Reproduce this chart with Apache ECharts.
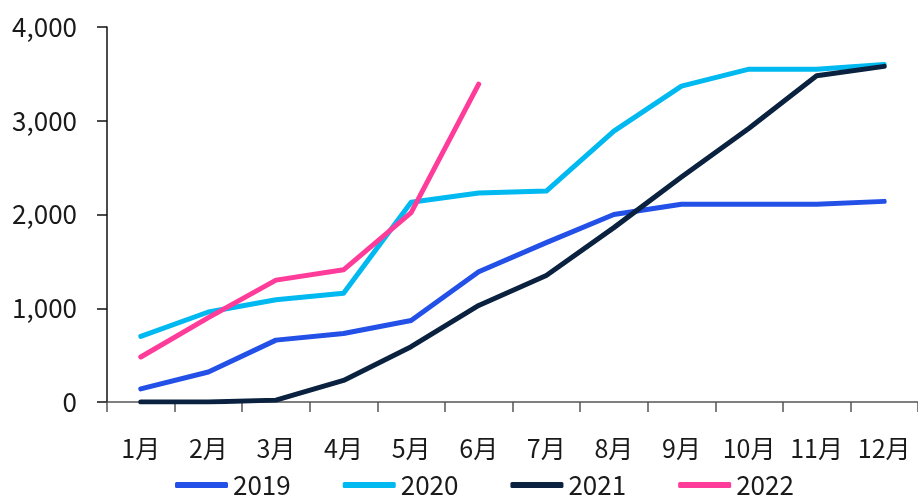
<!DOCTYPE html>
<html><head><meta charset="utf-8">
<script src="https://cdn.jsdelivr.net/npm/echarts@6/dist/echarts.min.js"></script>
<style>html,body{margin:0;padding:0;background:#fff}#c{width:918px;height:496px}</style>
</head><body><div id="c"></div>
<script>
const categories = ['1月','2月','3月','4月','5月','6月','7月','8月','9月','10月','11月','12月'];
const yTicks = [0, 1000, 2000, 3000, 4000];
const s2019 = [140, 320, 660, 730, 870, 1390, 1700, 2000, 2110, 2110, 2110, 2140];
const s2020 = [700, 960, 1090, 1160, 2130, 2230, 2250, 2890, 3370, 3550, 3550, 3600];
const s2021 = [0, 0, 20, 230, 590, 1030, 1350, 1860, 2400, 2920, 3480, 3580];
const s2022 = [480, 900, 1300, 1410, 2020, 3390];
const seriesNames = ['2019','2020','2021','2022'];
const seriesData = [s2019, s2020, s2021, s2022];
const colors = ['#2350E6', '#00B9F1', '#0A2240', '#FF3C9A'];

const FONT = '"Noto Sans CJK SC", "Noto Sans", sans-serif';
const chart = echarts.init(document.getElementById('c'), null, {renderer: 'canvas'});
chart.setOption({
  animation: false,
  textStyle: {fontFamily: FONT},
  grid: {left: 107, top: 27, width: 819, height: 375, containLabel: false},
  legend: {
    data: seriesNames,
    left: 170, top: 467,
    icon: 'roundRect', itemWidth: 53, itemHeight: 6, itemGap: 52,
    textStyle: {fontSize: 26, color: '#1a1a1a', fontFamily: FONT, padding: [0,0,0,0]}
  },
  xAxis: {
    type: 'category', data: categories, boundaryGap: true,
    axisLine: {lineStyle: {color: '#555', width: 1.5}},
    axisTick: {show: true, length: 10, lineStyle: {color: '#555', width: 1.5}},
    axisLabel: {fontSize: 25, color: '#1a1a1a', margin: 34, fontFamily: FONT, interval: 0}
  },
  yAxis: {
    type: 'value', min: yTicks[0], max: yTicks[yTicks.length-1], interval: 1000,
    axisLine: {show: true, lineStyle: {color: '#111', width: 1.5}},
    axisTick: {show: true, length: 10, lineStyle: {color: '#111', width: 1.5}},
    splitLine: {show: false},
    axisLabel: {fontSize: 26, color: '#1a1a1a', margin: 30, fontFamily: FONT}
  },
  series: seriesNames.map((n, i) => ({
    name: n, type: 'line', data: seriesData[i], showSymbol: false, symbol: 'none',
    color: colors[i],
    lineStyle: {width: 5, color: colors[i], cap: 'round', join: 'round'}
  }))
});
</script></body></html>
